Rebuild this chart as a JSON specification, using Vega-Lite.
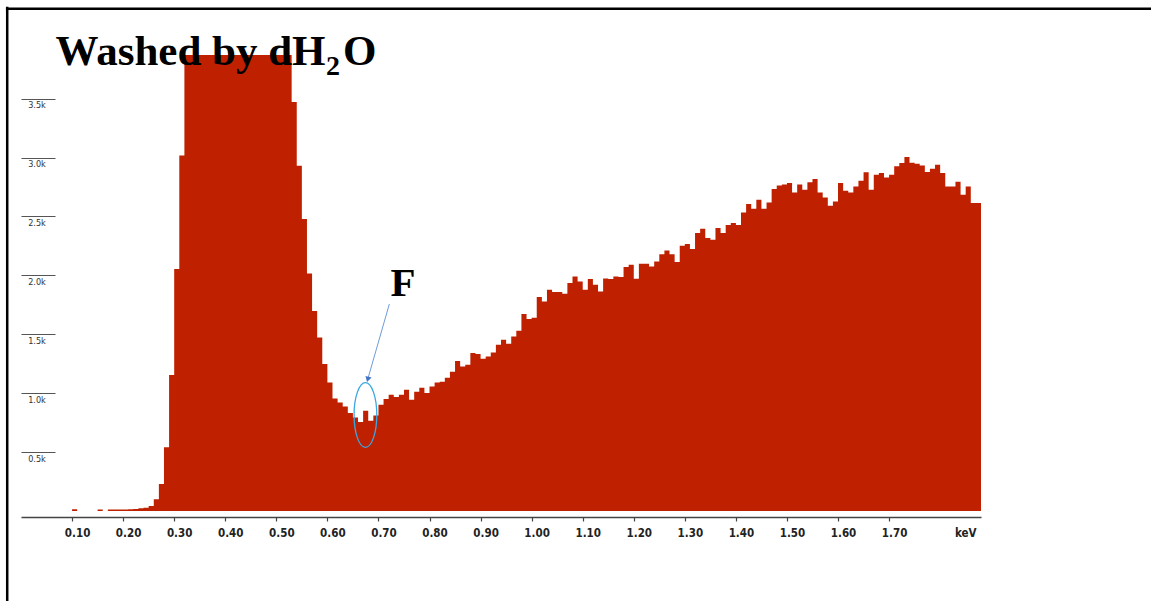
{
  "$schema": "https://vega.github.io/schema/vega-lite/v6.json",
  "width": 960,
  "height": 456,
  "autosize": {"type": "none"},
  "padding": {"left": 21, "top": 55, "right": 170, "bottom": 90},
  "background": "white",
  "config": {"view": {"stroke": null}},
  "data": {"values": [
    {"keV": 0.00, "counts": 0}, {"keV": 0.01, "counts": 0}, {"keV": 0.02, "counts": 0}, {"keV": 0.03, "counts": 0},
    {"keV": 0.04, "counts": 0}, {"keV": 0.05, "counts": 0}, {"keV": 0.06, "counts": 0}, {"keV": 0.07, "counts": 0},
    {"keV": 0.08, "counts": 0}, {"keV": 0.09, "counts": 0}, {"keV": 0.10, "counts": 15}, {"keV": 0.11, "counts": 0},
    {"keV": 0.12, "counts": 0}, {"keV": 0.13, "counts": 0}, {"keV": 0.14, "counts": 0}, {"keV": 0.15, "counts": 12},
    {"keV": 0.16, "counts": 0}, {"keV": 0.17, "counts": 12}, {"keV": 0.18, "counts": 12}, {"keV": 0.19, "counts": 12},
    {"keV": 0.20, "counts": 13}, {"keV": 0.21, "counts": 14}, {"keV": 0.22, "counts": 16}, {"keV": 0.23, "counts": 23},
    {"keV": 0.24, "counts": 28}, {"keV": 0.25, "counts": 42}, {"keV": 0.26, "counts": 99}, {"keV": 0.27, "counts": 229},
    {"keV": 0.28, "counts": 540}, {"keV": 0.29, "counts": 1154}, {"keV": 0.30, "counts": 2053}, {"keV": 0.31, "counts": 3017},
    {"keV": 0.32, "counts": 3950}, {"keV": 0.33, "counts": 4700}, {"keV": 0.34, "counts": 5400}, {"keV": 0.35, "counts": 6000},
    {"keV": 0.36, "counts": 6500}, {"keV": 0.37, "counts": 6900}, {"keV": 0.38, "counts": 7200}, {"keV": 0.39, "counts": 7400},
    {"keV": 0.40, "counts": 7500}, {"keV": 0.41, "counts": 7450}, {"keV": 0.42, "counts": 7300}, {"keV": 0.43, "counts": 7100},
    {"keV": 0.44, "counts": 6800}, {"keV": 0.45, "counts": 6500}, {"keV": 0.46, "counts": 6100}, {"keV": 0.47, "counts": 5700},
    {"keV": 0.48, "counts": 5300}, {"keV": 0.49, "counts": 4900}, {"keV": 0.50, "counts": 4500}, {"keV": 0.51, "counts": 4200},
    {"keV": 0.52, "counts": 3950}, {"keV": 0.53, "counts": 3471}, {"keV": 0.54, "counts": 2930}, {"keV": 0.55, "counts": 2478},
    {"keV": 0.56, "counts": 2015}, {"keV": 0.57, "counts": 1698}, {"keV": 0.58, "counts": 1473}, {"keV": 0.59, "counts": 1247},
    {"keV": 0.60, "counts": 1091}, {"keV": 0.61, "counts": 955}, {"keV": 0.62, "counts": 921}, {"keV": 0.63, "counts": 887},
    {"keV": 0.64, "counts": 831}, {"keV": 0.65, "counts": 794}, {"keV": 0.66, "counts": 755}, {"keV": 0.67, "counts": 851},
    {"keV": 0.68, "counts": 766}, {"keV": 0.69, "counts": 811}, {"keV": 0.70, "counts": 902}, {"keV": 0.71, "counts": 950},
    {"keV": 0.72, "counts": 986}, {"keV": 0.73, "counts": 967}, {"keV": 0.74, "counts": 986}, {"keV": 0.75, "counts": 1029},
    {"keV": 0.76, "counts": 944}, {"keV": 0.77, "counts": 1012}, {"keV": 0.78, "counts": 1046}, {"keV": 0.79, "counts": 1001},
    {"keV": 0.80, "counts": 1057}, {"keV": 0.81, "counts": 1091}, {"keV": 0.82, "counts": 1097}, {"keV": 0.83, "counts": 1131},
    {"keV": 0.84, "counts": 1182}, {"keV": 0.85, "counts": 1274}, {"keV": 0.86, "counts": 1227}, {"keV": 0.87, "counts": 1241},
    {"keV": 0.88, "counts": 1340}, {"keV": 0.89, "counts": 1332}, {"keV": 0.90, "counts": 1292}, {"keV": 0.91, "counts": 1312},
    {"keV": 0.92, "counts": 1346}, {"keV": 0.93, "counts": 1411}, {"keV": 0.94, "counts": 1453}, {"keV": 0.95, "counts": 1419},
    {"keV": 0.96, "counts": 1481}, {"keV": 0.97, "counts": 1530}, {"keV": 0.98, "counts": 1671}, {"keV": 0.99, "counts": 1629},
    {"keV": 1.00, "counts": 1640}, {"keV": 1.01, "counts": 1816}, {"keV": 1.02, "counts": 1778}, {"keV": 1.03, "counts": 1878},
    {"keV": 1.04, "counts": 1858}, {"keV": 1.05, "counts": 1858}, {"keV": 1.06, "counts": 1844}, {"keV": 1.07, "counts": 1935},
    {"keV": 1.08, "counts": 1991}, {"keV": 1.09, "counts": 1948}, {"keV": 1.10, "counts": 1878}, {"keV": 1.11, "counts": 1969},
    {"keV": 1.12, "counts": 1920}, {"keV": 1.13, "counts": 1863}, {"keV": 1.14, "counts": 1974}, {"keV": 1.15, "counts": 1969},
    {"keV": 1.16, "counts": 1991}, {"keV": 1.17, "counts": 1986}, {"keV": 1.18, "counts": 2071}, {"keV": 1.19, "counts": 2090},
    {"keV": 1.20, "counts": 1971}, {"keV": 1.21, "counts": 2099}, {"keV": 1.22, "counts": 2099}, {"keV": 1.23, "counts": 2076},
    {"keV": 1.24, "counts": 2118}, {"keV": 1.25, "counts": 2178}, {"keV": 1.26, "counts": 2211}, {"keV": 1.27, "counts": 2178},
    {"keV": 1.28, "counts": 2113}, {"keV": 1.29, "counts": 2251}, {"keV": 1.30, "counts": 2266}, {"keV": 1.31, "counts": 2223},
    {"keV": 1.32, "counts": 2359}, {"keV": 1.33, "counts": 2396}, {"keV": 1.34, "counts": 2317}, {"keV": 1.35, "counts": 2302},
    {"keV": 1.36, "counts": 2401}, {"keV": 1.37, "counts": 2359}, {"keV": 1.38, "counts": 2427}, {"keV": 1.39, "counts": 2444},
    {"keV": 1.40, "counts": 2427}, {"keV": 1.41, "counts": 2534}, {"keV": 1.42, "counts": 2605}, {"keV": 1.43, "counts": 2565},
    {"keV": 1.44, "counts": 2642}, {"keV": 1.45, "counts": 2565}, {"keV": 1.46, "counts": 2619}, {"keV": 1.47, "counts": 2733},
    {"keV": 1.48, "counts": 2763}, {"keV": 1.49, "counts": 2772}, {"keV": 1.50, "counts": 2783}, {"keV": 1.51, "counts": 2704},
    {"keV": 1.52, "counts": 2772}, {"keV": 1.53, "counts": 2727}, {"keV": 1.54, "counts": 2789}, {"keV": 1.55, "counts": 2818},
    {"keV": 1.56, "counts": 2704}, {"keV": 1.57, "counts": 2661}, {"keV": 1.58, "counts": 2591}, {"keV": 1.59, "counts": 2627},
    {"keV": 1.60, "counts": 2784}, {"keV": 1.61, "counts": 2718}, {"keV": 1.62, "counts": 2704}, {"keV": 1.63, "counts": 2755},
    {"keV": 1.64, "counts": 2803}, {"keV": 1.65, "counts": 2874}, {"keV": 1.66, "counts": 2727}, {"keV": 1.67, "counts": 2854},
    {"keV": 1.68, "counts": 2868}, {"keV": 1.69, "counts": 2831}, {"keV": 1.70, "counts": 2854}, {"keV": 1.71, "counts": 2925},
    {"keV": 1.72, "counts": 2953}, {"keV": 1.73, "counts": 3004}, {"keV": 1.74, "counts": 2956}, {"keV": 1.75, "counts": 2947},
    {"keV": 1.76, "counts": 2933}, {"keV": 1.77, "counts": 2877}, {"keV": 1.78, "counts": 2905}, {"keV": 1.79, "counts": 2939},
    {"keV": 1.80, "counts": 2868}, {"keV": 1.81, "counts": 2755}, {"keV": 1.82, "counts": 2755}, {"keV": 1.83, "counts": 2795},
    {"keV": 1.84, "counts": 2684}, {"keV": 1.85, "counts": 2755}, {"keV": 1.86, "counts": 2614}, {"keV": 1.87, "counts": 2614},
    {"keV": 1.88, "counts": 2614}
  ]},
  "layer": [
    {
      "mark": {"type": "area", "interpolate": "step-after", "color": "#BF2000", "clip": true},
      "encoding": {
        "x": {
          "field": "keV", "type": "quantitative",
          "scale": {"domain": [0, 1.88], "nice": false, "zero": false},
          "axis": {
            "values": [0.1, 0.2, 0.3, 0.4, 0.5, 0.6, 0.7, 0.8, 0.9, 1.0, 1.1, 1.2, 1.3, 1.4, 1.5, 1.6, 1.7],
            "format": ".2f", "offset": 6, "grid": false,
            "domainColor": "#444", "domainWidth": 1.5,
            "tickColor": "#444", "tickSize": 4, "tickWidth": 1.2,
            "labelFont": "DejaVu Sans Condensed", "labelFontWeight": "bold", "labelFontSize": 11.5,
            "labelColor": "#222", "labelOffset": 5, "labelPadding": 12, "labelBaseline": "middle",
            "labelFlush": false, "labelOverlap": false,
            "title": "keV", "titleFont": "DejaVu Sans Condensed", "titleFontWeight": "bold", "titleFontSize": 11.5,
            "titleColor": "#222", "titleAnchor": "end", "titleAlign": "right", "titleBaseline": "middle",
            "titleX": 955, "titleY": 16.5
          }
        },
        "y": {
          "field": "counts", "type": "quantitative",
          "scale": {"domain": [0, 3870], "nice": false},
          "axis": {
            "values": [500, 1000, 1500, 2000, 2500, 3000, 3500],
            "labelExpr": "format(datum.value/1000, '.1f') + 'k'",
            "offset": -34, "domain": false, "grid": false,
            "tickSize": 34, "tickColor": "#555", "tickWidth": 1.2,
            "labelAlign": "left", "labelBaseline": "top", "labelPadding": -6.7, "labelOffset": 2,
            "labelFont": "DejaVu Sans Condensed", "labelFontSize": 9, "labelColor": "#333",
            "title": null
          }
        }
      }
    },
    {
      "data": {"values": [{}]},
      "mark": {"type": "rule", "color": "#000000", "strokeWidth": 2.5, "clip": false},
      "encoding": {
        "x": {"datum": -0.027, "type": "quantitative"},
        "y": {"datum": 4280, "type": "quantitative"},
        "y2": {"datum": -800}
      }
    },
    {
      "data": {"values": [{}]},
      "mark": {"type": "rule", "color": "#000000", "strokeWidth": 2.5, "clip": false},
      "encoding": {
        "y": {"datum": 4263, "type": "quantitative"},
        "x": {"datum": -0.0295, "type": "quantitative"},
        "x2": {"datum": 2.3}
      }
    },
    {
      "data": {"values": [{}]},
      "mark": {"type": "rule", "color": "#6f9bd8", "strokeWidth": 1, "clip": false},
      "encoding": {
        "x": {"datum": 0.7214, "type": "quantitative"},
        "y": {"datum": 1757, "type": "quantitative"},
        "x2": {"datum": 0.6795},
        "y2": {"datum": 1125}
      }
    },
    {
      "data": {"values": [{}]},
      "mark": {"type": "point", "shape": "triangle-down", "filled": true, "color": "#4472C4", "size": 40, "angle": 16, "opacity": 1, "clip": false},
      "encoding": {
        "x": {"datum": 0.6791, "type": "quantitative"},
        "y": {"datum": 1117, "type": "quantitative"}
      }
    },
    {
      "data": {"values": [{}]},
      "mark": {"type": "point", "shape": "M 0 -1 C 0.1939 -1 0.351 -0.5523 0.351 0 C 0.351 0.5523 0.1939 1 0 1 C -0.1939 1 -0.351 0.5523 -0.351 0 C -0.351 -0.5523 -0.1939 -1 0 -1 Z", "filled": false, "stroke": "#3aa8e0", "strokeWidth": 1.3, "size": 4186, "opacity": 1, "clip": false},
      "encoding": {
        "x": {"datum": 0.6745, "type": "quantitative"},
        "y": {"datum": 815, "type": "quantitative"}
      }
    },
    {
      "data": {"values": [{}]},
      "mark": {"type": "text", "text": "Washed by dH", "font": "Liberation Serif", "fontWeight": "bold", "fontSize": 43, "align": "left", "baseline": "alphabetic", "color": "#000000", "clip": false},
      "encoding": {
        "x": {"datum": 0.0676, "type": "quantitative"},
        "y": {"datum": 3785, "type": "quantitative"}
      }
    },
    {
      "data": {"values": [{}]},
      "mark": {"type": "text", "text": "2", "font": "Liberation Serif", "fontWeight": "bold", "fontSize": 28, "align": "left", "baseline": "alphabetic", "color": "#000000", "clip": false},
      "encoding": {
        "x": {"datum": 0.5975, "type": "quantitative"},
        "y": {"datum": 3700, "type": "quantitative"}
      }
    },
    {
      "data": {"values": [{}]},
      "mark": {"type": "text", "text": "O", "font": "Liberation Serif", "fontWeight": "bold", "fontSize": 43, "align": "left", "baseline": "alphabetic", "color": "#000000", "clip": false},
      "encoding": {
        "x": {"datum": 0.6307, "type": "quantitative"},
        "y": {"datum": 3785, "type": "quantitative"}
      }
    },
    {
      "data": {"values": [{}]},
      "mark": {"type": "text", "text": "F", "font": "Liberation Serif", "fontWeight": "bold", "fontSize": 41, "align": "left", "baseline": "alphabetic", "color": "#000000", "clip": false},
      "encoding": {
        "x": {"datum": 0.7238, "type": "quantitative"},
        "y": {"datum": 1827, "type": "quantitative"}
      }
    }
  ]
}
